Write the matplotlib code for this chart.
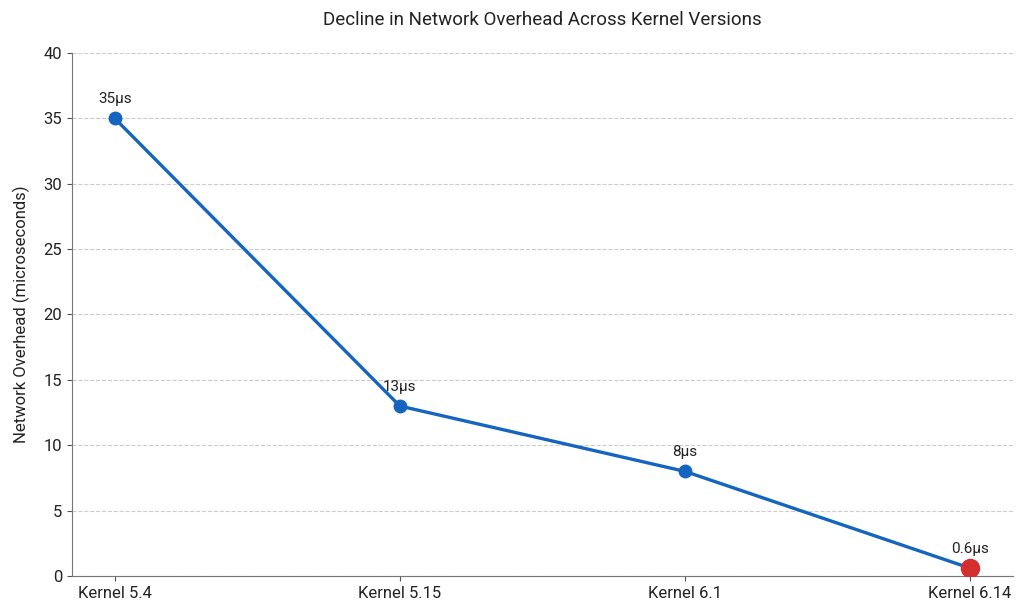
import matplotlib
matplotlib.use("Agg")
import matplotlib.pyplot as plt

kernels = ['Kernel 5.4', 'Kernel 5.15', 'Kernel 6.1', 'Kernel 6.14']
overhead_us = [35, 13, 8, 0.6]
labels = ['35μs', '13μs', '8μs', '0.6μs']

plt.rcParams['font.family'] = ['Roboto', 'DejaVu Sans']

fig = plt.figure(figsize=(10.24, 6.13), dpi=100)
ax = fig.add_axes([0.0703, 0.0604, 0.9187, 0.8531])

x = list(range(len(kernels)))
blue = '#1565C0'
red = '#D32F2F'

ax.plot(x, overhead_us, color=blue, linewidth=2.4, marker='o', markersize=9, zorder=3)
ax.plot(x[-1], overhead_us[-1], 'o', color=red, markersize=13, zorder=4)

for xi, yi, lab in zip(x, overhead_us, labels):
    ax.annotate(lab, (xi, yi), textcoords='offset points', xytext=(0, 9),
                ha='center', va='bottom', fontsize=11, color='#222222')

ax.set_xticks(x)
ax.set_xticklabels(kernels)
ax.set_xlim(-0.15, 3.15)
ax.set_ylim(0, 40)
ax.set_yticks(range(0, 41, 5))
ax.tick_params(labelsize=12, colors='#222222')
ax.tick_params(axis='both', color='#555555')

ax.grid(axis='y', linestyle='--', color='#cccccc', linewidth=0.8)
ax.set_axisbelow(True)
for s in ['top', 'right']:
    ax.spines[s].set_visible(False)
for s in ['left', 'bottom']:
    ax.spines[s].set_color('#777777')

ax.set_ylabel('Network Overhead (microseconds)', fontsize=12, color='#222222', labelpad=10)
ax.set_title('Decline in Network Overhead Across Kernel Versions', fontsize=13.5, pad=20, color='#222222')

fig.savefig('out.png', dpi=100)
